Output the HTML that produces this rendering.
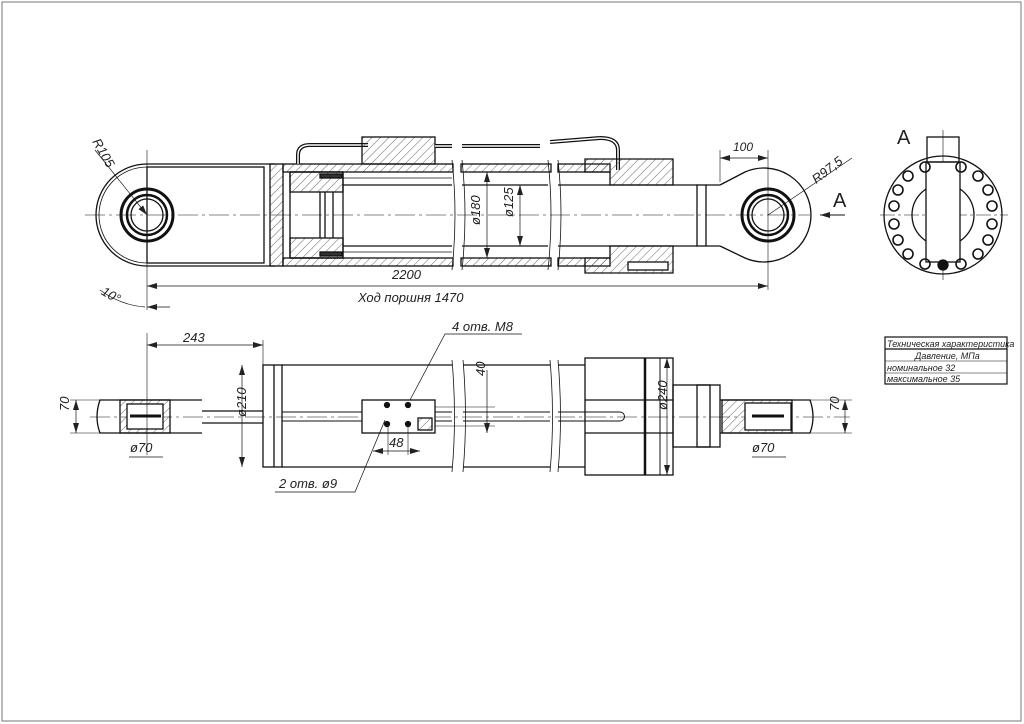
<!DOCTYPE html>
<html><head><meta charset="utf-8"><style>
html,body{margin:0;padding:0;background:#fff;width:1024px;height:724px;overflow:hidden}
svg{display:block}
text{font-family:"Liberation Sans","Noto Sans CJK SC",sans-serif;font-style:italic;fill:#222}
</style></head><body>
<svg width="1024" height="724" viewBox="0 0 1024 724" xmlns="http://www.w3.org/2000/svg">
<defs>
<pattern id="h" width="6" height="6" patternUnits="userSpaceOnUse" patternTransform="rotate(45)">
<line x1="0" y1="0" x2="0" y2="6" stroke="#444" stroke-width="0.8"/></pattern>
<marker id="a" markerWidth="10" markerHeight="6" refX="10" refY="3" orient="auto-start-reverse" markerUnits="userSpaceOnUse"><path d="M0,0 L10,3 L0,6z" fill="#222"/></marker>
</defs>
<rect x="2" y="2" width="1019" height="719" fill="none" stroke="#777" stroke-width="1"/>
<g stroke="#111" fill="none" stroke-width="1.3">
<line x1="85" y1="215" x2="810" y2="215" stroke-width="0.6" stroke-dasharray="20,4,3,4"/>
<line x1="147" y1="150" x2="147" y2="310" stroke-width="0.6"/>
<path d="M275,164 L147,164 A51,51 0 0 0 147,266 L275,266"/>
<path d="M147,167 A48,48 0 0 0 147,263" stroke-width="0.8"/>
<rect x="147" y="167" width="117" height="96"/>
<circle cx="147" cy="215" r="26" stroke-width="3"/>
<circle cx="147" cy="215" r="20" stroke-width="2.5"/>
<circle cx="147" cy="215" r="16"/>
<line x1="95" y1="150" x2="147" y2="215" stroke-width="0.7" marker-end="url(#a)"/>
<rect x="270" y="164" width="13" height="102" fill="url(#h)"/>
<rect x="283" y="164" width="170" height="8" fill="url(#h)"/>
<rect x="283" y="258" width="170" height="8" fill="url(#h)"/>
<rect x="461" y="164" width="90" height="8" fill="url(#h)"/>
<rect x="461" y="258" width="90" height="8" fill="url(#h)"/>
<rect x="558" y="164" width="52" height="8" fill="url(#h)"/>
<rect x="558" y="258" width="52" height="8" fill="url(#h)"/>
<path d="M290,172 L343,172 L343,258 L290,258 Z"/>
<rect x="290" y="172" width="53" height="20" fill="url(#h)"/>
<rect x="290" y="238" width="53" height="20" fill="url(#h)"/>
<rect x="320" y="174" width="22" height="4" fill="#333"/>
<rect x="320" y="252" width="22" height="4" fill="#333"/>
<line x1="320" y1="192" x2="320" y2="238"/><line x1="325" y1="192" x2="325" y2="238"/><line x1="333" y1="192" x2="333" y2="238"/>
<line x1="343" y1="185" x2="452" y2="185"/><line x1="343" y1="246" x2="452" y2="246"/>
<line x1="462" y1="185" x2="548" y2="185"/><line x1="462" y1="246" x2="548" y2="246"/>
<line x1="558" y1="185" x2="697" y2="185"/><line x1="558" y1="246" x2="697" y2="246"/>
<line x1="343" y1="178" x2="452" y2="178" stroke-width="0.8"/><line x1="343" y1="252" x2="452" y2="252" stroke-width="0.8"/>
<path d="M452,160 Q458,215 452,270 M462,160 Q468,215 462,270 M548,160 Q554,215 548,270 M558,160 Q564,215 558,270" stroke-width="0.8"/>
<path d="M298,164 L298,155 Q298,145 310,145 L368,145" stroke-width="4"/>
<path d="M298,164 L298,155 Q298,145 310,145 L368,145" stroke="#fff" stroke-width="1.5"/>
<rect x="362" y="137" width="73" height="27" fill="url(#h)"/>
<line x1="435" y1="146" x2="452" y2="146" stroke-width="4"/>
<line x1="435" y1="146" x2="452" y2="146" stroke="#fff" stroke-width="1.5"/>
<line x1="462" y1="146" x2="540" y2="146" stroke-width="4"/>
<line x1="462" y1="146" x2="540" y2="146" stroke="#fff" stroke-width="1.5"/>
<line x1="550" y1="142" x2="600" y2="138" stroke-width="4"/>
<line x1="550" y1="142" x2="600" y2="138" stroke="#fff" stroke-width="1.5"/>
<path d="M600,138 Q618,138 618,150 L618,170" stroke-width="4"/>
<path d="M600,138 Q618,138 618,150 L618,170" stroke="#fff" stroke-width="1.5"/>
<path d="M585,159 L673,159 L673,185 L610,185 L610,172 L585,172 Z" fill="url(#h)"/>
<path d="M585,273 L673,273 L673,246 L610,246 L610,258 L585,258 Z" fill="url(#h)"/>
<rect x="628" y="262" width="40" height="8" fill="#fff"/>
<rect x="697" y="185" width="9" height="61"/>
<path d="M706,185 L720,185 M706,246 L720,246"/>
<path d="M720,185 L745,172 A47,47 0 1 1 745,258 L720,246" />
<circle cx="768" cy="215" r="26" stroke-width="3"/>
<circle cx="768" cy="215" r="20" stroke-width="2.5"/>
<circle cx="768" cy="215" r="16"/>
<line x1="768" y1="150" x2="768" y2="290" stroke-width="0.6"/>
<line x1="720" y1="150" x2="720" y2="182" stroke-width="0.6"/>
<line x1="720" y1="158" x2="768" y2="158" stroke-width="0.7" marker-start="url(#a)" marker-end="url(#a)"/>
<line x1="768" y1="215" x2="852" y2="158" stroke-width="0.7"/>
<line x1="845" y1="215" x2="820" y2="215" stroke-width="1" marker-end="url(#a)"/>
<line x1="147" y1="286" x2="768" y2="286" stroke-width="0.7" marker-start="url(#a)" marker-end="url(#a)"/>
<line x1="147" y1="307" x2="170" y2="307" stroke-width="0.7" marker-start="url(#a)"/>
<path d="M100,290 Q120,305 145,307" stroke-width="0.7"/>
<line x1="487" y1="172" x2="487" y2="258" stroke-width="0.7" marker-start="url(#a)" marker-end="url(#a)"/>
<line x1="520" y1="185" x2="520" y2="246" stroke-width="0.7" marker-start="url(#a)" marker-end="url(#a)"/>
<circle cx="943" cy="215" r="59"/>
<circle cx="943" cy="215" r="31"/>
<line x1="880" y1="215" x2="1008" y2="215" stroke-width="0.6" stroke-dasharray="15,3,3,3"/>
<line x1="943" y1="130" x2="943" y2="280" stroke-width="0.6"/>
<rect x="926" y="162" width="34" height="100" fill="#fff"/>
<rect x="927" y="137" width="32" height="25"/>
<g stroke-width="1.6">
<circle cx="925" cy="167" r="5"/><circle cx="961" cy="167" r="5"/>
<circle cx="908" cy="176" r="5"/><circle cx="978" cy="176" r="5"/>
<circle cx="898" cy="190" r="5"/><circle cx="988" cy="190" r="5"/>
<circle cx="894" cy="206" r="5"/><circle cx="992" cy="206" r="5"/>
<circle cx="894" cy="224" r="5"/><circle cx="992" cy="224" r="5"/>
<circle cx="898" cy="240" r="5"/><circle cx="988" cy="240" r="5"/>
<circle cx="908" cy="254" r="5"/><circle cx="978" cy="254" r="5"/>
<circle cx="925" cy="264" r="5"/><circle cx="961" cy="264" r="5"/>
</g>
<circle cx="943" cy="265" r="5" fill="#111"/>
<line x1="90" y1="417" x2="850" y2="417" stroke-width="0.6" stroke-dasharray="20,4,3,4"/>
<path d="M202,400 L100,400 Q94,417 100,433 L202,433"/>
<rect x="120" y="400" width="50" height="33" fill="url(#h)"/>
<rect x="127" y="404" width="36" height="25" fill="#fff"/>
<line x1="130" y1="416" x2="161" y2="416" stroke-width="3"/>
<line x1="202" y1="411" x2="263" y2="411"/><line x1="202" y1="423" x2="263" y2="423"/>
<rect x="263" y="365" width="19" height="102"/>
<line x1="274" y1="365" x2="274" y2="467"/>
<path d="M282,365 L452,365 M282,467 L452,467 M463,365 L550,365 M463,467 L550,467 M558,365 L585,365 M558,467 L585,467"/>
<path d="M452,360 Q457,417 452,472 M463,360 Q468,417 463,472 M550,360 Q555,417 550,472 M558,360 Q563,417 558,472" stroke-width="0.8"/>
<path d="M282,412 L452,412 M282,421 L452,421 M463,412 L550,412 M463,421 L550,421 M558,412 L620,412 A4.5,4.5 0 0 1 620,421 L558,421" stroke-width="1"/>
<rect x="362" y="400" width="73" height="33" fill="#fff"/>
<rect x="418" y="418" width="14" height="12" fill="url(#h)"/>
<g fill="#111"><circle cx="387" cy="405" r="2.5"/><circle cx="387" cy="424" r="2.5"/><circle cx="408" cy="405" r="2.5"/><circle cx="408" cy="424" r="2.5"/></g>
<rect x="585" y="358" width="88" height="117"/>
<line x1="645" y1="358" x2="645" y2="475" stroke-width="2.5"/>
<line x1="660" y1="358" x2="660" y2="475" stroke-width="1"/>
<line x1="585" y1="400" x2="673" y2="400"/><line x1="585" y1="433" x2="673" y2="433"/>
<rect x="673" y="385" width="47" height="62"/>
<rect x="697" y="385" width="13" height="62"/>
<path d="M720,400 L810,400 Q816,417 810,433 L720,433"/>
<rect x="722" y="400" width="70" height="33" fill="url(#h)"/>
<rect x="745" y="403" width="46" height="27" fill="#fff"/>
<line x1="752" y1="416" x2="784" y2="416" stroke-width="3"/>
<line x1="147" y1="333" x2="147" y2="455" stroke-width="0.6"/>
<line x1="147" y1="345" x2="263" y2="345" stroke-width="0.7" marker-start="url(#a)" marker-end="url(#a)"/>
<line x1="263" y1="340" x2="263" y2="365" stroke-width="0.6"/>
<line x1="242" y1="365" x2="242" y2="467" stroke-width="0.7" marker-start="url(#a)" marker-end="url(#a)"/>
<line x1="76" y1="400" x2="76" y2="433" stroke-width="0.7" marker-start="url(#a)" marker-end="url(#a)"/>
<line x1="70" y1="400" x2="100" y2="400" stroke-width="0.6"/><line x1="70" y1="433" x2="100" y2="433" stroke-width="0.6"/>
<line x1="129" y1="457" x2="163" y2="457" stroke-width="0.7"/>
<line x1="667" y1="358" x2="667" y2="475" stroke-width="0.7" marker-start="url(#a)" marker-end="url(#a)"/>
<line x1="845" y1="400" x2="845" y2="433" stroke-width="0.7" marker-start="url(#a)" marker-end="url(#a)"/>
<line x1="810" y1="400" x2="852" y2="400" stroke-width="0.6"/><line x1="810" y1="433" x2="852" y2="433" stroke-width="0.6"/>
<line x1="752" y1="457" x2="786" y2="457" stroke-width="0.7"/>
<line x1="487" y1="370" x2="487" y2="433" stroke-width="0.7" marker-end="url(#a)"/>
<line x1="435" y1="407" x2="495" y2="407" stroke-width="0.6"/><line x1="435" y1="426" x2="495" y2="426" stroke-width="0.6"/>
<line x1="373" y1="451" x2="420" y2="451" stroke-width="0.7" marker-start="url(#a)" marker-end="url(#a)"/>
<line x1="388" y1="427" x2="388" y2="455" stroke-width="0.6"/><line x1="408" y1="427" x2="408" y2="455" stroke-width="0.6"/>
<path d="M522,334 L445,334 L410,400" stroke-width="0.7"/>
<path d="M275,492 L355,492 L385,420" stroke-width="0.7"/>
<rect x="885" y="337" width="122" height="47" stroke-width="1.2"/>
<line x1="885" y1="349" x2="1007" y2="349" stroke-width="1.2"/>
<line x1="885" y1="361" x2="1007" y2="361" stroke-width="0.6"/>
<line x1="885" y1="373" x2="1007" y2="373" stroke-width="0.6"/>
</g>
<g font-size="13">
<text x="86" y="152" transform="rotate(60 98 152)">R105</text>
<text x="392" y="279">2200</text>
<text x="358" y="302">Ход поршня 1470</text>
<text x="103" y="300" transform="rotate(30 113 292)">10°</text>
<text x="733" y="151" font-size="12">100</text>
<text x="810" y="178" transform="rotate(-38 822 172)">R97,5</text>
<text x="472" y="233" transform="rotate(-90 472 225)">ø180</text>
<text x="505" y="225" transform="rotate(-90 505 217)">ø125</text>
<text x="183" y="342">243</text>
<text x="452" y="331">4 отв. М8</text>
<text x="279" y="488">2 отв. ø9</text>
<text x="389" y="447">48</text>
<text x="234" y="429" transform="rotate(-90 234 417)">ø210</text>
<text x="487" y="388" transform="rotate(-90 480 383)">40</text>
<text x="663" y="428" transform="rotate(-90 656 417)">ø240</text>
<text x="70" y="422" transform="rotate(-90 64 417)">70</text>
<text x="840" y="422" transform="rotate(-90 834 417)">70</text>
<text x="130" y="452">ø70</text>
<text x="752" y="452">ø70</text>
</g>
<text x="833" y="207" font-size="20" style="font-style:normal">A</text>
<text x="897" y="144" font-size="20" style="font-style:normal">A</text>
<g font-size="9">
<text x="887" y="347">Техническая характеристика</text>
<text x="915" y="359">Давление, МПа</text>
<text x="887" y="371">номинальное  32</text>
<text x="887" y="382">максимальное  35</text>
</g>
</svg>
</body></html>
